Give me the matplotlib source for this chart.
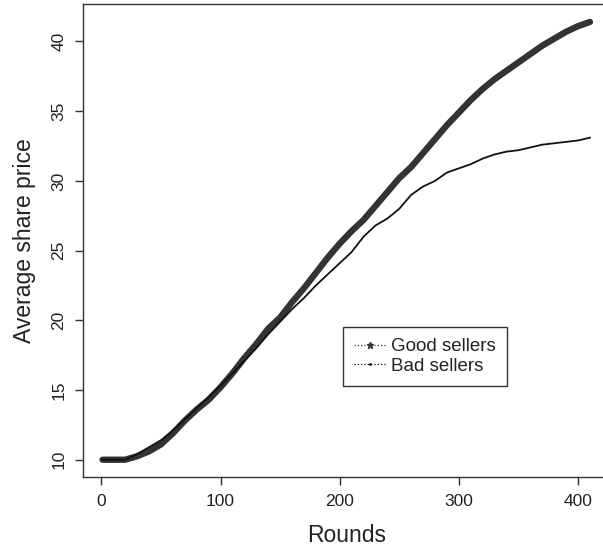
import matplotlib
matplotlib.use("Agg")
import matplotlib.pyplot as plt
from matplotlib.lines import Line2D

plt.rcParams["font.family"] = ["Liberation Sans", "DejaVu Sans"]

# rounds
rounds = [1] + list(range(10, 411, 10))

good_sellers = [
    10.0, 10.0, 10.0, 10.25, 10.6, 11.1, 11.9, 12.8, 13.6, 14.3,
    15.2, 16.2, 17.3, 18.3, 19.4, 20.2, 21.3, 22.3, 23.4, 24.5,
    25.5, 26.4, 27.2, 28.2, 29.2, 30.2, 31.0, 32.0, 33.0, 34.0,
    34.9, 35.8, 36.6, 37.3, 37.9, 38.5, 39.1, 39.7, 40.2, 40.7,
    41.1, 41.4,
]

bad_sellers = [
    10.0, 10.0, 10.0, 10.4, 10.9, 11.4, 12.1, 12.9, 13.7, 14.5,
    15.3, 16.2, 17.1, 18.0, 19.0, 19.9, 20.8, 21.6, 22.5, 23.3,
    24.1, 24.9, 26.0, 26.8, 27.3, 28.0, 29.0, 29.6, 30.0, 30.6,
    30.9, 31.2, 31.6, 31.9, 32.1, 32.2, 32.4, 32.6, 32.7, 32.8,
    32.9, 33.1,
]

x_ticks = [0, 100, 200, 300, 400]
y_ticks = [10, 15, 20, 25, 30, 35, 40]

fig = plt.figure(figsize=(6.03, 5.52), dpi=100)
ax = fig.add_axes([83 / 603, 1 - 477.3 / 552, 526.5 / 603, 472.9 / 552])

ax.plot(rounds, good_sellers, color="#333333", linewidth=4.6, solid_capstyle="round")
ax.plot(rounds, bad_sellers, color="#111111", linewidth=1.3)

ax.set_xlim(-15.4, 426.4)
ax.set_ylim(8.74, 42.66)
ax.set_xticks(x_ticks)
ax.set_yticks(y_ticks)
ax.set_yticklabels([str(v) for v in y_ticks], rotation=90, va="center")

for spine in ax.spines.values():
    spine.set_color("#333333")
    spine.set_linewidth(1.0)

ax.tick_params(axis="both", direction="out", length=6, width=1.0,
               color="#333333", labelsize=12.5, labelcolor="#222222", pad=6)

ax.set_xlabel("Rounds", fontsize=16.5, color="#222222", labelpad=11)
ax.set_ylabel("Average share price", fontsize=16.5, color="#222222", labelpad=11)

handles = [
    Line2D([0, 1, 2], [0, 0, 0], color="#333333", linestyle=":", linewidth=0.9,
           marker="*", markersize=5, markevery=[1]),
    Line2D([0, 1, 2], [0, 0, 0], color="#111111", linestyle=":", linewidth=0.9,
           marker=".", markersize=2, markevery=[1]),
]

leg = ax.legend(
    handles,
    ["Good sellers", "Bad sellers"],
    loc="lower left",
    bbox_to_anchor=(0.494, 0.193),
    borderaxespad=0.0,
    fontsize=13.5,
    fancybox=False,
    framealpha=1.0,
    edgecolor="#333333",
    handlelength=1.7,
    handletextpad=0.25,
    labelspacing=0.12,
    borderpad=0.6,
)
leg.get_frame().set_linewidth(1.0)
for t in leg.get_texts():
    t.set_color("#222222")

fig.savefig("out.png", dpi=100, facecolor="white")
